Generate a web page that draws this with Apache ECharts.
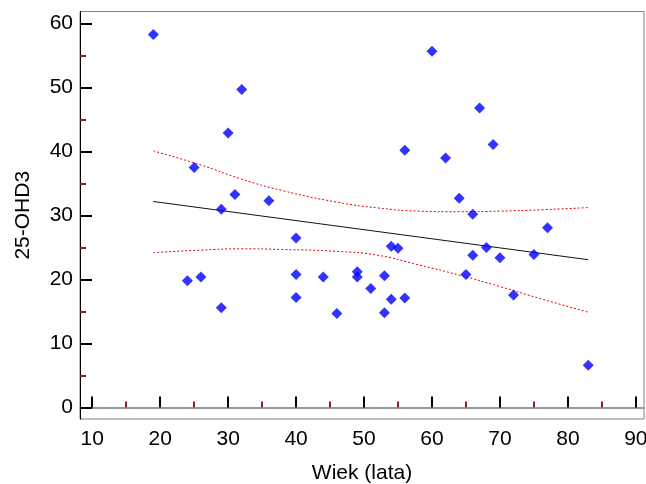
<!DOCTYPE html>
<html>
<head>
<meta charset="utf-8">
<script src="https://cdn.jsdelivr.net/npm/echarts@6/dist/echarts.min.js"></script>
<style>
  html, body { margin: 0; padding: 0; background: #fff; }
  #chart { width: 646px; height: 484px; }
</style>
</head>
<body>
<div id="chart"></div>
<script>
// wiek (lata) vs 25-OHD3
const ages = [19, 25, 30, 32, 29, 31, 36, 24, 26, 29, 40, 40, 40, 44, 46, 49, 49, 51, 53, 53,
  54, 55, 54, 56, 56, 60, 62, 64, 66, 65, 66, 67, 68, 69, 70, 72, 75, 77, 83]
const vitD = [58.3, 37.5, 42.9, 49.7, 31.0, 33.3, 32.3, 19.8, 20.4, 15.6, 26.5, 20.8, 17.2, 20.4, 14.7, 21.2, 20.4, 18.6, 20.6, 14.8,
  25.2, 24.9, 16.9, 17.1, 40.2, 55.7, 39.0, 32.7, 30.2, 20.8, 23.8, 46.8, 25.0, 41.1, 23.4, 17.6, 23.9, 28.1, 6.6]

// regression line + confidence band
const fitX = [19, 83]
const fitY = [32.2, 23.1]
const bandX = [19, 26, 32, 38, 46, 52, 58, 64, 70, 76, 83]
const upperBand = [40.1, 37.9, 35.7, 33.9, 32.1, 31.2, 30.7, 30.6, 30.7, 30.9, 31.25]
const lowerBand = [24.2, 24.6, 24.8, 24.7, 24.4, 23.8, 22.3, 20.7, 18.9, 17.0, 14.9]

const xMajor = [10, 20, 30, 40, 50, 60, 70, 80, 90]
const xMinor = [15, 25, 35, 45, 55, 65, 75, 85]
const yMajor = [0, 10, 20, 30, 40, 50, 60]
const yMinor = [5, 15, 25, 35, 45, 55]

const fontFamily = 'Liberation Sans, Arial, sans-serif'
const minorColor = '#a01818'

function pairs(xs, ys) {
  return xs.map((x, i) => [x, ys[i]])
}

const chart = echarts.init(document.getElementById('chart'))

chart.setOption({
  animation: false,
  grid: {
    left: 80,
    right: 2,
    top: 11.5,
    bottom: 65,
    outerBoundsMode: 'none',
    show: true,
    borderColor: '#808080',
    borderWidth: 1
  },
  xAxis: [
    {
      type: 'value',
      min: 8.2,
      max: 91.2,
      position: 'bottom',
      name: 'Wiek (lata)',
      nameLocation: 'middle',
      nameGap: 44,
      nameTextStyle: { fontSize: 21, fontFamily: fontFamily, color: '#000' },
      axisLine: { show: true, lineStyle: { color: '#999', width: 2 } },
      axisTick: { show: true, inside: true, length: 11, customValues: xMajor, lineStyle: { color: '#000', width: 2 } },
      axisLabel: { show: true, customValues: xMajor, margin: 10, fontSize: 21, fontFamily: fontFamily, color: '#000' },
      splitLine: { show: false }
    },
    {
      type: 'value',
      min: 8.2,
      max: 91.2,
      position: 'bottom',
      axisLine: { show: false },
      axisTick: { show: true, inside: true, length: 6, customValues: xMinor, lineStyle: { color: minorColor, width: 2 } },
      axisLabel: { show: false },
      splitLine: { show: false }
    }
  ],
  yAxis: [
    {
      type: 'value',
      min: -1.8,
      max: 61.9,
      position: 'left',
      name: '25-OHD3',
      nameLocation: 'middle',
      nameGap: 46,
      nameTextStyle: { fontSize: 21, fontFamily: fontFamily, color: '#000' },
      axisLine: { show: true, lineStyle: { color: '#000', width: 1 } },
      axisTick: { show: true, inside: true, length: 12, customValues: yMajor, lineStyle: { color: '#000', width: 2 } },
      axisLabel: { show: true, customValues: yMajor, margin: 7, fontSize: 21, fontFamily: fontFamily, color: '#000' },
      splitLine: { show: false }
    },
    {
      type: 'value',
      min: -1.8,
      max: 61.9,
      position: 'left',
      axisLine: { show: false },
      axisTick: { show: true, inside: true, length: 6, customValues: yMinor, lineStyle: { color: minorColor, width: 2 } },
      axisLabel: { show: false },
      splitLine: { show: false }
    }
  ],
  series: [
    {
      type: 'line',
      data: pairs(bandX, upperBand),
      smooth: true,
      symbol: 'none',
      lineStyle: { color: '#e00000', width: 1, type: [2, 2] },
      z: 2
    },
    {
      type: 'line',
      data: pairs(bandX, lowerBand),
      smooth: true,
      symbol: 'none',
      lineStyle: { color: '#e00000', width: 1, type: [2, 2] },
      z: 2
    },
    {
      type: 'line',
      data: pairs(fitX, fitY),
      symbol: 'none',
      lineStyle: { color: '#111', width: 1 },
      z: 2
    },
    {
      type: 'scatter',
      data: pairs(ages, vitD),
      symbol: 'diamond',
      symbolSize: 11,
      itemStyle: { color: '#0000ff' },
      z: 3
    }
  ]
})
</script>
</body>
</html>
